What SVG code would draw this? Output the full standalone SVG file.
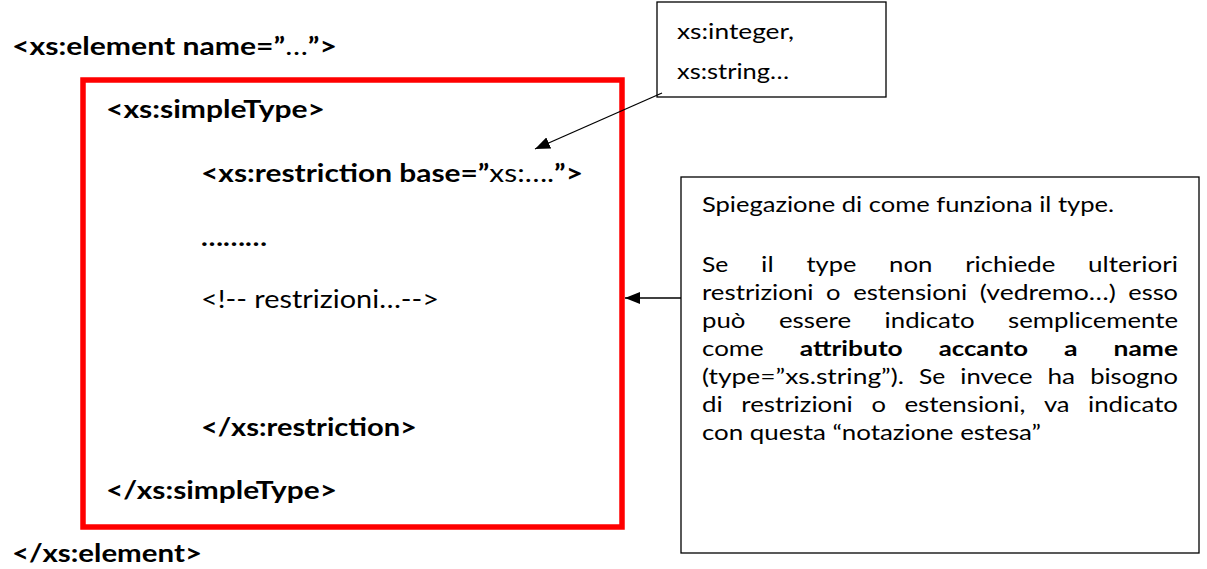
<svg xmlns="http://www.w3.org/2000/svg" width="1207" height="569" viewBox="0 0 1207 569">
<defs>
<style>
.code{font-family:Lato,"Liberation Sans",sans-serif;font-size:25px;font-weight:bold;fill:#000}
.norm{font-weight:normal}
.body{font-family:Lato,"Liberation Sans",sans-serif;font-size:21px;fill:#000}
.b{font-weight:bold}
.box{fill:#fff;stroke:#000;stroke-width:1.3}
.conn{stroke:#000;stroke-width:1.3;fill:none}
</style>
<marker id="ah" viewBox="0 0 15 12" refX="15" refY="6" markerWidth="15" markerHeight="12" markerUnits="userSpaceOnUse" orient="auto">
<path d="M0,0 L15,6 L0,12 z" fill="#000"/>
</marker>
</defs>
<rect width="1207" height="569" fill="#fff"/>

<g id="element">
<text class="code" x="12" y="55" textLength="325" lengthAdjust="spacingAndGlyphs">&lt;xs:element name=”<tspan class="norm">…</tspan>”&gt;</text>
<text class="code" x="12" y="562" textLength="190" lengthAdjust="spacingAndGlyphs">&lt;/xs:element&gt;</text>
</g>

<g id="simpletype">
<rect x="83" y="80" width="539" height="447" fill="none" stroke="#ff0000" stroke-width="5.5"/>
<text class="code" x="106" y="118" textLength="219" lengthAdjust="spacingAndGlyphs">&lt;xs:simpleType&gt;</text>
<text class="code" x="201" y="182" textLength="382" lengthAdjust="spacingAndGlyphs">&lt;xs:restriction base=”<tspan class="norm">xs:….</tspan>”&gt;</text>
<text class="code" x="201" y="246" textLength="66" lengthAdjust="spacingAndGlyphs">………</text>
<text class="code norm" x="201" y="308" textLength="238" lengthAdjust="spacingAndGlyphs">&lt;!-- restrizioni…--&gt;</text>
<text class="code" x="201" y="436" textLength="216" lengthAdjust="spacingAndGlyphs">&lt;/xs:restriction&gt;</text>
<text class="code" x="106" y="499" textLength="231" lengthAdjust="spacingAndGlyphs">&lt;/xs:simpleType&gt;</text>
</g>

<g id="types-note">
<rect class="box" x="657" y="2" width="229" height="95"/>
<text class="body" x="677" y="39" textLength="117" lengthAdjust="spacingAndGlyphs">xs:integer,</text>
<text class="body" x="677" y="79" textLength="112" lengthAdjust="spacingAndGlyphs">xs:string…</text>
</g>

<g id="explanation" class="body">
<rect class="box" x="681" y="177" width="518" height="376"/>
<text x="702" y="212" textLength="412" lengthAdjust="spacingAndGlyphs">Spiegazione di come funziona il type.</text>

<text x="702" y="272" textLength="26.3" lengthAdjust="spacingAndGlyphs">Se</text>
<text x="761.1" y="272" textLength="12.6" lengthAdjust="spacingAndGlyphs">il</text>
<text x="806.5" y="272" textLength="49.8" lengthAdjust="spacingAndGlyphs">type</text>
<text x="889.1" y="272" textLength="43.4" lengthAdjust="spacingAndGlyphs">non</text>
<text x="965.2" y="272" textLength="90.1" lengthAdjust="spacingAndGlyphs">richiede</text>
<text x="1088.1" y="272" textLength="89.9" lengthAdjust="spacingAndGlyphs">ulteriori</text>

<text x="702" y="300" textLength="111.5" lengthAdjust="spacingAndGlyphs">restrizioni</text>
<text x="826.1" y="300" textLength="14.5" lengthAdjust="spacingAndGlyphs">o</text>
<text x="853.2" y="300" textLength="114.1" lengthAdjust="spacingAndGlyphs">estensioni</text>
<text x="979.8" y="300" textLength="136" lengthAdjust="spacingAndGlyphs">(vedremo…)</text>
<text x="1128.3" y="300" textLength="49.7" lengthAdjust="spacingAndGlyphs">esso</text>

<text x="702" y="328" textLength="43.4" lengthAdjust="spacingAndGlyphs">può</text>
<text x="778.9" y="328" textLength="72.2" lengthAdjust="spacingAndGlyphs">essere</text>
<text x="884.6" y="328" textLength="90" lengthAdjust="spacingAndGlyphs">indicato</text>
<text x="1008.1" y="328" textLength="169.9" lengthAdjust="spacingAndGlyphs">semplicemente</text>

<text x="702" y="356" textLength="61.8" lengthAdjust="spacingAndGlyphs">come</text>
<text class="b" x="799.7" y="356" textLength="103.1" lengthAdjust="spacingAndGlyphs">attributo</text>
<text class="b" x="938.7" y="356" textLength="89.3" lengthAdjust="spacingAndGlyphs">accanto</text>
<text class="b" x="1064" y="356" textLength="13.6" lengthAdjust="spacingAndGlyphs">a</text>
<text class="b" x="1113.5" y="356" textLength="64.5" lengthAdjust="spacingAndGlyphs">name</text>

<text x="702" y="384" textLength="202" lengthAdjust="spacingAndGlyphs">(type=”xs.string”).</text>
<text x="919" y="384" textLength="26.3" lengthAdjust="spacingAndGlyphs">Se</text>
<text x="960.3" y="384" textLength="72.2" lengthAdjust="spacingAndGlyphs">invece</text>
<text x="1047.5" y="384" textLength="27.6" lengthAdjust="spacingAndGlyphs">ha</text>
<text x="1090.2" y="384" textLength="87.8" lengthAdjust="spacingAndGlyphs">bisogno</text>

<text x="702" y="412" textLength="20.7" lengthAdjust="spacingAndGlyphs">di</text>
<text x="741.3" y="412" textLength="111.5" lengthAdjust="spacingAndGlyphs">restrizioni</text>
<text x="871.4" y="412" textLength="14.5" lengthAdjust="spacingAndGlyphs">o</text>
<text x="904.4" y="412" textLength="121" lengthAdjust="spacingAndGlyphs">estensioni,</text>
<text x="1043.9" y="412" textLength="25.6" lengthAdjust="spacingAndGlyphs">va</text>
<text x="1088" y="412" textLength="90" lengthAdjust="spacingAndGlyphs">indicato</text>

<text x="702" y="440" textLength="339" lengthAdjust="spacingAndGlyphs">con questa “notazione estesa”</text>
</g>

<g id="connectors">
<line class="conn" x1="662" y1="93" x2="535" y2="149" marker-end="url(#ah)"/>
<line class="conn" x1="681" y1="298" x2="625" y2="298" marker-end="url(#ah)"/>
</g>
</svg>
